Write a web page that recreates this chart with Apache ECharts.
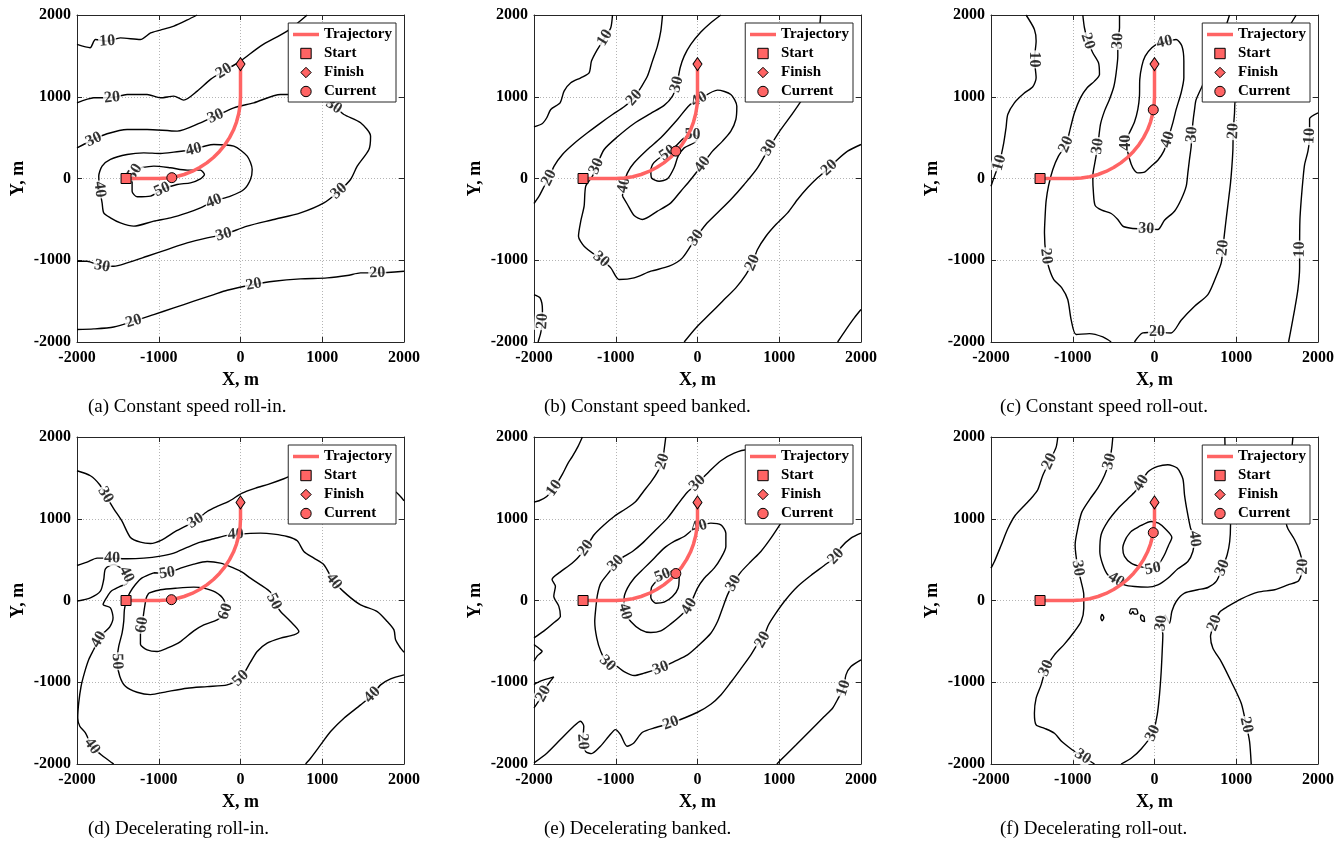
<!DOCTYPE html>
<html><head><meta charset="utf-8">
<script src="https://cdn.jsdelivr.net/npm/echarts@6/dist/echarts.min.js"></script>
<style>html,body{margin:0;padding:0;background:#fff}#c{width:1343px;height:850px}</style>
</head><body><div id="c"></div>
<script>
// ---------- contour polylines (X, Y in metres) ----------
// (a) constant speed roll-in
const a10 = [[-2000,1640],[-1840,1600],[-1775,1700],[-1630,1680],[-1470,1720],[-1225,1700],[-1100,1780],[-980,1815],[-815,1865],[-650,1940],[-530,2000]];
const a20u = [[-2000,926],[-1795,987],[-1571,990],[-1387,1028],[-1142,1028],[-979,987],[-816,1008],[-694,959],[-530,1069],[-367,1212],[-204,1314],[0,1436],[245,1620],[571,1803],[816,2000]];
const a30 = [[-2000,375],[-1795,477],[-1632,547],[-1387,600],[-1142,600],[-775,579],[-490,681],[-306,763],[-82,865],[163,926],[490,1028],[734,1028],[979,967],[1142,885],[1265,783],[1469,681],[1591,518],[1571,355],[1428,151],[1346,-12],[1204,-155],[1020,-298],[734,-420],[408,-502],[82,-583],[-204,-685],[-408,-726],[-653,-787],[-898,-869],[-1142,-951],[-1387,-1032],[-1550,-1073],[-1693,-1073],[-1877,-1012],[-2000,-1012]];
const a40 = [[-571,355],[-326,416],[-82,396],[82,273],[143,110],[122,-12],[41,-135],[-122,-216],[-326,-277],[-490,-359],[-653,-420],[-857,-481],[-1061,-522],[-1306,-583],[-1469,-543],[-1591,-481],[-1673,-420],[-1693,-298],[-1722,-135],[-1734,29],[-1693,151],[-1591,233],[-1387,294],[-1183,314],[-979,306],[-816,322],[-571,355]];
const a50 = [[-1224,131],[-1061,151],[-857,131],[-653,102],[-490,102],[-441,49],[-490,-4],[-612,-53],[-775,-73],[-959,-135],[-1102,-216],[-1265,-224],[-1326,-155],[-1326,-33],[-1297,78],[-1224,131]];
const a20l = [[-2000,-1848],[-1795,-1840],[-1550,-1816],[-1306,-1746],[-1061,-1665],[-816,-1583],[-571,-1501],[-326,-1420],[-163,-1367],[163,-1297],[408,-1257],[734,-1228],[1061,-1216],[1306,-1187],[1469,-1155],[1673,-1155],[2000,-1134]];
// (b) constant speed banked
const b10 = [[-1040,2000],[-1061,1844],[-1134,1722],[-1224,1579],[-1297,1436],[-1326,1293],[-1428,1232],[-1550,1171],[-1632,1069],[-1681,926],[-1795,845],[-1844,743],[-1897,673],[-2000,632]];
const b20a = [[-428,2000],[-449,1803],[-490,1620],[-551,1436],[-612,1253],[-694,1110],[-775,987],[-898,877],[-1040,783],[-1183,681],[-1346,559],[-1510,428],[-1652,294],[-1754,151],[-1816,8],[-1885,-114],[-1938,-216],[-2000,-306]];
const b30 = [[286,2000],[163,1905],[41,1791],[-82,1640],[-163,1497],[-212,1355],[-253,1151],[-306,1008],[-408,894],[-571,796],[-775,673],[-979,510],[-1142,355],[-1236,150],[-1285,29],[-1367,-94],[-1387,-339],[-1428,-522],[-1456,-706],[-1387,-828],[-1180,-990],[-1061,-1093],[-959,-1236],[-775,-1216],[-571,-1134],[-347,-1073],[-184,-971],[-20,-726],[102,-563],[245,-420],[408,-257],[571,-73],[734,131],[877,375],[1020,600],[1183,824],[1387,1150],[1469,1579],[1506,2000]];
const b40 = [[-918,-216],[-900,-80],[-857,69],[-775,192],[-612,355],[-449,498],[-245,722],[-102,894],[20,967],[245,1081],[408,1028],[481,885],[469,722],[408,579],[306,457],[184,335],[61,171],[-82,-12],[-204,-155],[-326,-298],[-490,-400],[-673,-502],[-775,-453],[-857,-318],[-918,-216]];
const b50 = [[-571,110],[-563,8],[-469,-33],[-367,-4],[-286,131],[-237,273],[-163,375],[-41,437],[8,498],[-61,539],[-163,498],[-265,396],[-367,314],[-490,233],[-551,171],[-571,110]];
const b20b = [[2000,416],[1836,335],[1714,233],[1612,131],[1469,8],[1346,-114],[1224,-257],[1102,-420],[959,-563],[837,-706],[734,-869],[673,-1032],[592,-1175],[469,-1338],[306,-1501],[143,-1665],[-20,-1828],[-163,-2000]];
const b10b = [[2000,-1603],[1918,-1705],[1816,-1848],[1714,-2000]];
const b20c = [[-2000,-1420],[-1926,-1461],[-1897,-1603],[-1897,-1746],[-1918,-1889],[-1950,-2000]];
// (c) constant speed roll-out
const c10a = [[-1571,2000],[-1469,1824],[-1448,1681],[-1469,1457],[-1448,1232],[-1489,1122],[-1599,1040],[-1714,926],[-1795,783],[-1816,620],[-1844,437],[-1897,192],[-1950,49],[-2000,-94]];
const c20a = [[-877,2000],[-857,1844],[-816,1681],[-755,1538],[-685,1416],[-673,1273],[-734,1191],[-824,1110],[-906,987],[-979,804],[-1028,620],[-1081,416],[-1175,273],[-1244,110],[-1297,-94],[-1326,-277],[-1338,-461],[-1346,-665],[-1326,-951],[-1285,-1114],[-1232,-1236],[-1134,-1338],[-1061,-1481],[-1020,-1726],[-959,-1909],[-796,-1897],[-632,-1938],[-530,-2000]];
const c30a = [[-428,2000],[-428,1844],[-449,1681],[-449,1497],[-469,1293],[-498,1122],[-551,967],[-612,824],[-661,661],[-694,396],[-726,212],[-755,29],[-747,-175],[-726,-330],[-645,-388],[-530,-428],[-449,-502],[-388,-583],[-286,-608],[-102,-616],[41,-624],[122,-510],[245,-400],[326,-257],[388,-94],[408,69],[428,233],[449,396],[457,539],[469,681],[490,845],[510,967],[734,1456],[918,2000]];
const c40 = [[122,1669],[265,1701],[335,1620],[359,1436],[359,1232],[326,1049],[265,845],[224,681],[163,477],[114,335],[41,224],[-41,151],[-122,78],[-204,69],[-265,131],[-306,241],[-347,437],[-306,559],[-245,690],[-204,845],[-184,1008],[-180,1212],[-155,1375],[-114,1497],[-33,1599],[61,1661],[122,1669]];
const c20b = [[-245,-2000],[-143,-1889],[30,-1880],[204,-1889],[326,-1734],[490,-1563],[653,-1420],[755,-1195],[816,-1032],[837,-849],[857,-665],[881,-461],[906,-257],[930,-53],[947,151],[959,355],[963,579],[979,804],[987,947],[1387,1457],[1734,2000]];
const c10b = [[2000,804],[1897,730],[1897,518],[1877,335],[1836,171],[1816,-12],[1795,-257],[1779,-502],[1775,-869],[1775,-1093],[1754,-1359],[1714,-1603],[1673,-1828],[1640,-2000]];
// (d) decelerating roll-in
const d30 = [[-2000,1587],[-1836,1526],[-1722,1416],[-1652,1293],[-1550,1122],[-1448,967],[-1346,771],[-1224,714],[-1102,698],[-959,743],[-796,845],[-551,975],[-408,1089],[-286,1151],[-143,1212],[20,1314],[184,1375],[347,1424],[530,1489],[1061,1701],[1889,1334],[2000,1220]];
const d40a = [[-2000,428],[-1877,469],[-1754,518],[-1571,518],[-1387,510],[-1183,518],[-979,543],[-816,579],[-653,649],[-490,714],[-326,755],[-163,796],[-60,810],[245,824],[408,812],[571,783],[694,730],[775,600],[898,518],[1020,437],[1142,233],[1306,69],[1469,-53],[1673,-135],[1795,-257],[1877,-359],[1897,-481],[1958,-583],[2000,-632]];
const d40b = [[-2000,-8],[-1836,33],[-1714,114],[-1673,257],[-1652,388],[-1550,441],[-1469,400],[-1395,318],[-1380,220],[-1480,170],[-1583,114],[-1632,45],[-1681,-49],[-1591,-90],[-1559,-212],[-1599,-322],[-1681,-404],[-1734,-477],[-1795,-600],[-1856,-722],[-1909,-885],[-1950,-1049],[-1979,-1253],[-1991,-1436],[-1966,-1538],[-1897,-1620],[-1816,-1783],[-1693,-1897],[-1571,-1987],[-1550,-2000]];
const d50 = [[-1061,339],[-1204,277],[-1285,196],[-1355,94],[-1395,-8],[-1420,-110],[-1428,-253],[-1448,-396],[-1489,-559],[-1510,-743],[-1477,-926],[-1408,-1049],[-1265,-1122],[-1102,-1151],[-898,-1114],[-653,-1073],[-408,-1053],[-163,-1032],[0,-951],[122,-755],[204,-624],[326,-522],[490,-461],[653,-420],[714,-379],[612,-257],[490,-135],[408,-12],[367,102],[245,192],[122,273],[20,347],[-82,396],[-245,457],[-408,477],[-571,445],[-734,396],[-898,335],[-1061,339]];
const d60 = [[-1122,90],[-979,131],[-775,151],[-571,163],[-449,151],[-306,102],[-204,8],[-184,-135],[-286,-237],[-449,-298],[-571,-371],[-734,-502],[-898,-583],[-1020,-624],[-1142,-604],[-1224,-534],[-1224,-420],[-1204,-298],[-1175,-94],[-1151,37],[-1122,90]];
const d40c = [[2000,-910],[1836,-959],[1714,-1032],[1612,-1155],[1469,-1277],[1265,-1440],[1102,-1603],[979,-1767],[857,-1930],[796,-2000]];
// (e) decelerating banked
const e10 = [[-1408,2000],[-1461,1885],[-1530,1762],[-1583,1681],[-1652,1546],[-1754,1375],[-1844,1273],[-1938,1220],[-2000,1204]];
const e20a = [[-388,2000],[-408,1844],[-428,1701],[-490,1571],[-571,1448],[-661,1334],[-755,1212],[-877,1122],[-1020,1028],[-1151,918],[-1265,804],[-1367,641],[-1469,518],[-1571,428],[-1681,347],[-1779,257],[-1738,175],[-1758,53],[-1697,-69],[-1677,-192],[-1758,-273],[-1881,-375],[-2000,-457]];
const e20s = [[-2000,-539],[-1922,-600],[-1901,-620],[-1962,-681],[-2000,-743]];
const e20t = [[-2000,-1028],[-1922,-987],[-1758,-934],[-1799,-987],[-1850,-1060],[-1885,-1140],[-1942,-1232],[-2000,-1314]];
const e30 = [[1020,947],[898,763],[775,600],[653,477],[530,347],[441,212],[367,69],[306,-94],[245,-257],[163,-400],[20,-543],[-122,-665],[-286,-747],[-449,-828],[-653,-889],[-775,-918],[-898,-869],[-1000,-796],[-1102,-767],[-1183,-624],[-1232,-461],[-1257,-257],[-1244,-94],[-1224,69],[-1183,212],[-1081,347],[-1000,457],[-898,539],[-796,600],[-673,702],[-530,845],[-367,1008],[-245,1171],[-122,1326],[0,1436],[143,1579],[286,1710],[449,1803],[612,1844],[898,1579],[1061,1171],[1020,947]];
const e40 = [[20,906],[163,947],[286,926],[347,824],[347,661],[286,518],[204,396],[82,273],[0,151],[-102,-73],[-204,-184],[-326,-286],[-449,-371],[-571,-392],[-694,-359],[-816,-257],[-889,-135],[-898,29],[-857,151],[-775,273],[-653,396],[-530,518],[-408,641],[-286,722],[-163,783],[-61,865],[20,906]];
const e50 = [[-428,306],[-286,363],[-224,294],[-237,151],[-306,49],[-408,-20],[-510,-33],[-571,37],[-563,159],[-498,241],[-428,306]];
const e20b = [[2000,824],[1877,763],[1754,649],[1693,539],[1550,428],[1387,306],[1224,171],[1081,12],[959,-155],[865,-306],[796,-481],[743,-522],[653,-665],[530,-836],[408,-1000],[286,-1155],[163,-1269],[0,-1367],[-326,-1501],[-510,-1554],[-673,-1612],[-779,-1742],[-861,-1783],[-942,-1640],[-1004,-1579],[-1085,-1661],[-1187,-1783],[-1297,-1873],[-1367,-1848],[-1404,-1726],[-1391,-1538],[-1432,-1477],[-1514,-1538],[-1677,-1701],[-1840,-1865],[-2000,-1987]];
const e10b = [[2000,-726],[1877,-808],[1816,-910],[1787,-1073],[1722,-1195],[1652,-1318],[1550,-1420],[1448,-1522],[1326,-1644],[1204,-1767],[1081,-1889],[971,-2000]];
// (f) decelerating roll-out
const f20a = [[-1183,2000],[-1204,1873],[-1285,1701],[-1367,1530],[-1428,1355],[-1489,1273],[-1591,1163],[-1705,1040],[-1795,877],[-1877,673],[-1958,477],[-2000,396]];
const f30a = [[-510,2000],[-522,1873],[-551,1701],[-612,1530],[-694,1375],[-796,1232],[-889,1081],[-938,885],[-971,681],[-938,396],[-898,233],[-865,69],[-865,-94],[-898,-257],[-979,-379],[-1102,-534],[-1224,-665],[-1326,-828],[-1387,-1032],[-1448,-1195],[-1469,-1379],[-1448,-1522],[-1346,-1563],[-1224,-1624],[-1134,-1726],[-1020,-1816],[-877,-1909],[-734,-2000]];
const f30b = [[-408,-2000],[-286,-1930],[-163,-1816],[-20,-1624],[33,-1399],[61,-1155],[82,-869],[94,-624],[102,-420],[82,-277],[131,-184],[184,-277],[212,-135],[265,-12],[367,90],[530,131],[653,159],[755,233],[830,400],[889,559],[920,722],[930,926],[880,1400],[860,2000]];
const f40 = [[-163,1436],[-82,1571],[41,1640],[163,1661],[277,1620],[347,1489],[367,1293],[400,1089],[441,885],[490,755],[469,600],[408,477],[286,388],[163,273],[41,192],[-82,163],[-245,171],[-367,192],[-469,253],[-571,314],[-632,437],[-669,600],[-653,804],[-571,967],[-449,1122],[-326,1244],[-237,1334],[-163,1436]];
const f50 = [[-286,845],[-163,918],[-41,967],[49,947],[131,877],[212,771],[171,673],[122,559],[61,457],[-20,388],[-163,412],[-286,457],[-367,539],[-388,641],[-347,763],[-286,845]];
const f20b = [[1183,-2000],[1163,-1726],[1122,-1522],[1061,-1257],[938,-991],[816,-747],[714,-583],[685,-441],[734,-277],[796,-143],[898,-73],[1061,20],[1265,102],[1469,131],[1632,192],[1763,241],[1816,416],[1775,600],[1714,743],[1632,877],[1612,947],[1650,1500],[1693,2000]];
const fs1 = [[-641,-167],[-620,-208],[-641,-249],[-657,-208],[-641,-167]];
const fs2 = [[-306,-155],[-286,-102],[-224,-102],[-204,-155],[-245,-167],[-265,-135],[-286,-167],[-306,-155]];
const fs3 = [[-163,-175],[-130,-196],[-122,-257],[-151,-249],[-171,-208],[-163,-175]];

// ---------- contour tables: [level, polyline, indices of label points] ----------
const contA = [[10,a10,[3]],[20,a20u,[2,10]],[30,a30,[1,7,13,20,25,32]],[40,a40,[0,8,18]],[50,a50,[9,14]],[20,a20l,[3,9,15]]];
const contB = [[10,b10,[2]],[20,b20a,[6,14]],[30,b30,[6,13,20,27,33]],[40,b40,[1,8,16]],[50,b50,[9,12]],[20,b20b,[3,11]],[10,b10b,[]],[20,b20c,[3]]];
const contC = [[10,c10a,[3,11]],[20,c20a,[2,11,18]],[30,c30a,[2,9,19,28]],[40,c40,[0,8,16]],[20,c20b,[2,9,16]],[10,c10b,[2,8]]];
const contD = [[30,d30,[3,11]],[40,d40a,[3,12,20]],[40,d40b,[7,17,26]],[50,d50,[9,18,27,37]],[60,d60,[7,17]],[40,d40c,[3]]];
const contE = [[10,e10,[5]],[20,e20a,[2,11]],[20,e20s,[]],[20,e20t,[5]],[30,e30,[5,13,18,26,34]],[40,e40,[0,9,16]],[50,e50,[0]],[20,e20b,[3,10,18,29]],[10,e10b,[3]]];
const contF = [[20,f20a,[2]],[30,f30a,[2,9,17,26]],[30,f30b,[3,9,18]],[40,f40,[0,9,18]],[50,f50,[9]],[20,f20b,[2,8,16]],[40,fs1,[]],[40,fs2,[]],[40,fs3,[]]];

// ---------- trajectory and markers ----------
const trajConst = [[-1400,0],[-1000,0],[-895,5],[-792,22],[-691,49],[-593,86],[-500,134],[-412,191],[-331,257],[-257,331],[-191,412],[-134,500],[-86,593],[-49,691],[-22,792],[-5,895],[0,1000],[0,1400]];
const trajDecel = [[-1400,0],[-1000,0],[-895,5],[-792,22],[-691,49],[-593,86],[-500,134],[-412,191],[-331,257],[-257,331],[-191,412],[-134,500],[-86,593],[-49,691],[-22,792],[-5,895],[0,1000],[0,1200]];
const startPt = [-1400, 0];
const finishConst = [0, 1400];
const finishDecel = [0, 1200];
const currents = [[-840,10],[-265,335],[-15,840],[-845,10],[-265,330],[-15,830]];

const captions = ['(a) Constant speed roll-in.','(b) Constant speed banked.','(c) Constant speed roll-out.','(d) Decelerating roll-in.','(e) Decelerating banked.','(f) Decelerating roll-out.'];
const axisTicks = [-2000, 2000, 1000]; // min, max, step
const legendNames = ['Trajectory','Start','Finish','Current'];

// ---------- build chart ----------
const FONT = '"Liberation Serif","Times New Roman",serif';
const RED = '#ff6464';
const FRAME = '#262626';
const panels = [
  {cont: contA, traj: trajConst, fin: finishConst},
  {cont: contB, traj: trajConst, fin: finishConst},
  {cont: contC, traj: trajConst, fin: finishConst},
  {cont: contD, traj: trajDecel, fin: finishDecel},
  {cont: contE, traj: trajDecel, fin: finishDecel},
  {cont: contF, traj: trajDecel, fin: finishDecel}
];
const gridLeft = [77, 534, 991];
const gridTop = [15, 437];
const GW = 327, GH = 327;

function labelRot(pts, i) {
  const a = pts[Math.max(i - 1, 0)], b = pts[Math.min(i + 1, pts.length - 1)];
  let ang = Math.atan2(b[1] - a[1], b[0] - a[0]) * 180 / Math.PI;
  if (ang > 90) ang -= 180;
  if (ang < -90) ang += 180;
  return ang;
}

const option = {animation: false, backgroundColor: '#fff', grid: [], xAxis: [], yAxis: [], series: [], legend: [], title: []};

panels.forEach((P, p) => {
  const col = p % 3, row = Math.floor(p / 3);
  const gl = gridLeft[col], gt = gridTop[row];
  option.grid.push({left: gl, top: gt, width: GW, height: GH, outerBoundsMode: 'none', containLabel: false, show: false});
  const base = {
    gridIndex: p, type: 'value', min: axisTicks[0], max: axisTicks[1], interval: axisTicks[2],
    axisLine: {show: true, onZero: false, lineStyle: {color: FRAME, width: 1}},
    axisTick: {show: true, inside: true, length: 5, lineStyle: {color: FRAME, width: 1}}
  };
  const lab = {show: true, color: '#000', fontFamily: FONT, fontWeight: 'bold', fontSize: 16, formatter: v => String(v)};
  const nameStyle = {color: '#000', fontFamily: FONT, fontWeight: 'bold', fontSize: 18};
  const split = {show: true, lineStyle: {color: '#b4b4b4', width: 1, type: [1, 2]}};
  option.xAxis.push(Object.assign({}, base, {position: 'bottom', axisLabel: Object.assign({margin: 8}, lab), splitLine: split,
    name: 'X, m', nameLocation: 'middle', nameGap: 29, nameTextStyle: nameStyle}));
  option.xAxis.push(Object.assign({}, base, {position: 'top', axisLabel: {show: false}, splitLine: {show: false}}));
  option.yAxis.push(Object.assign({}, base, {position: 'left', axisLabel: Object.assign({margin: 6}, lab), splitLine: split,
    name: 'Y, m', nameLocation: 'middle', nameGap: 50, nameTextStyle: nameStyle}));
  option.yAxis.push(Object.assign({}, base, {position: 'right', axisLabel: {show: false}, splitLine: {show: false}}));
  const xi = 2 * p, yi = 2 * p;
  const labelData = [];
  P.cont.forEach(([lv, pts, labs]) => {
    option.series.push({type: 'line', xAxisIndex: xi, yAxisIndex: yi, data: pts, symbol: 'none', smooth: 0.25,
      lineStyle: {color: '#000', width: 1.4}, silent: true, z: 2});
    labs.forEach(i => labelData.push({value: [pts[i][0], pts[i][1], lv], label: {rotate: labelRot(pts, i)}}));
  });
  option.series.push({type: 'scatter', xAxisIndex: xi, yAxisIndex: yi, data: labelData, symbol: 'circle', symbolSize: 1,
    itemStyle: {color: 'rgba(0,0,0,0)'}, silent: true, z: 3,
    label: {show: true, position: 'inside', formatter: q => String(q.value[2]), color: '#000', fontFamily: FONT,
      fontWeight: 'bold', fontSize: 16, lineHeight: 16, backgroundColor: '#fff', padding: [0, 1],
      textBorderWidth: 0}});
  option.series.push({type: 'line', name: 'Trajectory', xAxisIndex: xi, yAxisIndex: yi, data: P.traj, symbol: 'none',
    lineStyle: {color: RED, width: 3.5}, itemStyle: {color: RED}, silent: true, z: 5});
  const mk = (name, sym, size, pt) => ({type: 'line', name, xAxisIndex: xi, yAxisIndex: yi, data: [pt], symbol: sym,
    symbolSize: size, showSymbol: true, lineStyle: {width: 0, color: RED},
    itemStyle: {color: RED, borderColor: '#000', borderWidth: 1}, silent: true, z: 6});
  option.series.push(mk('Start', 'rect', 10, startPt));
  option.series.push(mk('Finish', 'diamond', [9, 13], P.fin));
  option.series.push(mk('Current', 'circle', 10, currents[p]));
  option.legend.push({
    orient: 'vertical', right: 1343 - (gl + GW - 8), top: gt + 8, itemWidth: 26, itemHeight: 13, itemGap: 4,
    padding: [4, 4, 3, 3], backgroundColor: '#fff', borderColor: FRAME, borderWidth: 1, borderRadius: 0,
    selectedMode: false, z: 20,
    textStyle: {fontFamily: FONT, fontWeight: 'bold', fontSize: 15, color: '#000'},
    data: [
      {name: legendNames[0], itemStyle: {opacity: 0}, lineStyle: {width: 3.5, color: RED}},
      {name: legendNames[1], itemStyle: {color: RED, borderColor: '#000', borderWidth: 1}, lineStyle: {width: 0, opacity: 0}},
      {name: legendNames[2], itemStyle: {color: RED, borderColor: '#000', borderWidth: 1}, lineStyle: {width: 0, opacity: 0}},
      {name: legendNames[3], itemStyle: {color: RED, borderColor: '#000', borderWidth: 1}, lineStyle: {width: 0, opacity: 0}}
    ]
  });
  option.title.push({text: captions[p], left: [83, 539, 995][col], top: row === 0 ? 393 : 815, padding: 5,
    textStyle: {fontFamily: FONT, fontWeight: 'normal', fontSize: 19, color: '#000'}});
});

const chart = echarts.init(document.getElementById('c'), null, {renderer: 'canvas'});
chart.setOption(option);
</script></body></html>
